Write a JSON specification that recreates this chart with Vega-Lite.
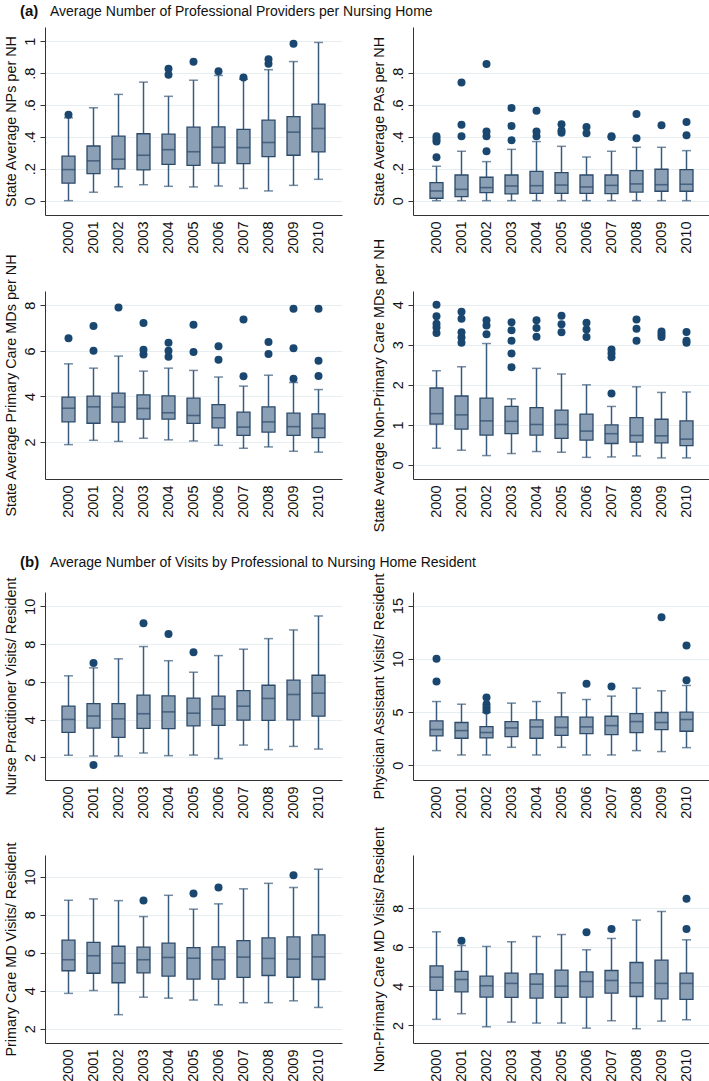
{
"$schema": "https://vega.github.io/schema/vega-lite/v6.json",
"background": "white",
"padding": {"left": 2, "top": 4, "right": 0, "bottom": 0},
"columns": 2,
"bounds": "flush",
"spacing": {"row": 37, "column": 71},
"config": {
  "font": "Liberation Sans",
  "view": {"stroke": null},
  "title": {"font": "Liberation Sans", "color": "#111", "fontSize": 14, "anchor": "start", "frame": "group"},
  "axis": {"domainColor": "#333", "tickColor": "#333", "labelColor": "#111", "titleColor": "#111", "labelFont": "Liberation Sans", "titleFont": "Liberation Sans", "labelFontSize": 14.5, "titleFontSize": 14.4, "titleFontWeight": "normal", "labelOverlap": false, "labelFlush": false},
  "axisX": {"ticks": false, "tickSize": 0, "labelAngle": -90, "labelAlign": "right", "labelBaseline": "middle", "labelPadding": 6, "grid": false, "labelFontSize": 14.5, "labelOverlap": false},
  "axisY": {"labelAngle": -90, "labelAlign": "center", "labelBaseline": "bottom", "tickSize": 5, "labelPadding": 3, "titlePadding": 4, "grid": true, "gridColor": "#e6eef2", "labelFontSize": 14.5, "labelOverlap": false}
},
"datasets": {
  "boxes": [
    {"p":1,"year":"2000","lo":0,"q1":0.11,"med":0.195,"q3":0.28,"hi":0.52},
    {"p":1,"year":"2001","lo":0.053,"q1":0.17,"med":0.25,"q3":0.343,"hi":0.583},
    {"p":1,"year":"2002","lo":0.087,"q1":0.2,"med":0.26,"q3":0.405,"hi":0.667},
    {"p":1,"year":"2003","lo":0.1,"q1":0.193,"med":0.285,"q3":0.42,"hi":0.744},
    {"p":1,"year":"2004","lo":0.09,"q1":0.228,"med":0.32,"q3":0.417,"hi":0.655},
    {"p":1,"year":"2005","lo":0.086,"q1":0.222,"med":0.307,"q3":0.461,"hi":0.756},
    {"p":1,"year":"2006","lo":0.092,"q1":0.235,"med":0.335,"q3":0.463,"hi":0.786},
    {"p":1,"year":"2007","lo":0.077,"q1":0.232,"med":0.333,"q3":0.448,"hi":0.762},
    {"p":1,"year":"2008","lo":0.061,"q1":0.277,"med":0.365,"q3":0.505,"hi":0.822},
    {"p":1,"year":"2009","lo":0.096,"q1":0.285,"med":0.43,"q3":0.528,"hi":0.873},
    {"p":1,"year":"2010","lo":0.134,"q1":0.306,"med":0.453,"q3":0.606,"hi":0.993},
    {"p":2,"year":"2000","lo":0,"q1":0.015,"med":0.061,"q3":0.113,"hi":0.216},
    {"p":2,"year":"2001","lo":0,"q1":0.025,"med":0.071,"q3":0.161,"hi":0.31},
    {"p":2,"year":"2002","lo":0,"q1":0.05,"med":0.082,"q3":0.147,"hi":0.245},
    {"p":2,"year":"2003","lo":0,"q1":0.042,"med":0.092,"q3":0.161,"hi":0.322},
    {"p":2,"year":"2004","lo":0,"q1":0.046,"med":0.094,"q3":0.184,"hi":0.371},
    {"p":2,"year":"2005","lo":0,"q1":0.046,"med":0.098,"q3":0.176,"hi":0.341},
    {"p":2,"year":"2006","lo":0,"q1":0.046,"med":0.086,"q3":0.161,"hi":0.274},
    {"p":2,"year":"2007","lo":0,"q1":0.044,"med":0.096,"q3":0.161,"hi":0.31},
    {"p":2,"year":"2008","lo":0,"q1":0.054,"med":0.105,"q3":0.188,"hi":0.335},
    {"p":2,"year":"2009","lo":0,"q1":0.059,"med":0.1,"q3":0.197,"hi":0.335},
    {"p":2,"year":"2010","lo":0,"q1":0.059,"med":0.103,"q3":0.195,"hi":0.314},
    {"p":3,"year":"2000","lo":1.88,"q1":2.88,"med":3.48,"q3":3.97,"hi":5.43},
    {"p":3,"year":"2001","lo":2.07,"q1":2.82,"med":3.54,"q3":4.01,"hi":5.24},
    {"p":3,"year":"2002","lo":2.02,"q1":2.87,"med":3.53,"q3":4.14,"hi":5.77},
    {"p":3,"year":"2003","lo":2.16,"q1":3.0,"med":3.47,"q3":4.07,"hi":5.11},
    {"p":3,"year":"2004","lo":2.09,"q1":3.0,"med":3.28,"q3":4.02,"hi":5.24},
    {"p":3,"year":"2005","lo":2.04,"q1":2.81,"med":3.16,"q3":3.92,"hi":5.14},
    {"p":3,"year":"2006","lo":1.85,"q1":2.62,"med":3.06,"q3":3.64,"hi":4.85},
    {"p":3,"year":"2007","lo":1.72,"q1":2.29,"med":2.65,"q3":3.31,"hi":4.45},
    {"p":3,"year":"2008","lo":1.78,"q1":2.43,"med":2.88,"q3":3.54,"hi":4.93},
    {"p":3,"year":"2009","lo":1.59,"q1":2.29,"med":2.67,"q3":3.26,"hi":4.61},
    {"p":3,"year":"2010","lo":1.55,"q1":2.19,"med":2.6,"q3":3.23,"hi":4.3},
    {"p":4,"year":"2000","lo":0.418,"q1":1.02,"med":1.28,"q3":1.92,"hi":2.35},
    {"p":4,"year":"2001","lo":0.368,"q1":0.895,"med":1.25,"q3":1.72,"hi":2.45},
    {"p":4,"year":"2002","lo":0.234,"q1":0.745,"med":1.1,"q3":1.67,"hi":3.03},
    {"p":4,"year":"2003","lo":0.285,"q1":0.78,"med":1.09,"q3":1.46,"hi":1.65},
    {"p":4,"year":"2004","lo":0.335,"q1":0.745,"med":1.01,"q3":1.43,"hi":2.41},
    {"p":4,"year":"2005","lo":0.318,"q1":0.661,"med":1.01,"q3":1.37,"hi":2.27},
    {"p":4,"year":"2006","lo":0.19,"q1":0.62,"med":0.845,"q3":1.27,"hi":2.0},
    {"p":4,"year":"2007","lo":0.2,"q1":0.535,"med":0.78,"q3":1.0,"hi":1.46},
    {"p":4,"year":"2008","lo":0.226,"q1":0.569,"med":0.736,"q3":1.18,"hi":1.95},
    {"p":4,"year":"2009","lo":0.176,"q1":0.552,"med":0.728,"q3":1.14,"hi":1.81},
    {"p":4,"year":"2010","lo":0.176,"q1":0.485,"med":0.644,"q3":1.1,"hi":1.82},
    {"p":5,"year":"2000","lo":2.11,"q1":3.32,"med":4.01,"q3":4.71,"hi":6.32},
    {"p":5,"year":"2001","lo":2.07,"q1":3.55,"med":4.19,"q3":4.85,"hi":6.74},
    {"p":5,"year":"2002","lo":2.07,"q1":3.06,"med":4.04,"q3":4.85,"hi":7.22},
    {"p":5,"year":"2003","lo":2.23,"q1":3.53,"med":4.31,"q3":5.3,"hi":7.87},
    {"p":5,"year":"2004","lo":2.09,"q1":3.52,"med":4.41,"q3":5.26,"hi":7.12},
    {"p":5,"year":"2005","lo":2.12,"q1":3.67,"med":4.34,"q3":5.14,"hi":6.51},
    {"p":5,"year":"2006","lo":1.93,"q1":3.69,"med":4.56,"q3":5.24,"hi":7.39},
    {"p":5,"year":"2007","lo":2.65,"q1":3.97,"med":4.71,"q3":5.54,"hi":7.73},
    {"p":5,"year":"2008","lo":2.41,"q1":3.96,"med":5.12,"q3":5.82,"hi":8.29},
    {"p":5,"year":"2009","lo":2.58,"q1":3.99,"med":5.33,"q3":6.09,"hi":8.75},
    {"p":5,"year":"2010","lo":2.44,"q1":4.18,"med":5.4,"q3":6.35,"hi":9.49},
    {"p":6,"year":"2000","lo":1.38,"q1":2.76,"med":3.36,"q3":4.17,"hi":5.99},
    {"p":6,"year":"2001","lo":0.97,"q1":2.54,"med":3.26,"q3":4.02,"hi":5.74},
    {"p":6,"year":"2002","lo":0.97,"q1":2.57,"med":3.08,"q3":3.64,"hi":4.96},
    {"p":6,"year":"2003","lo":1.69,"q1":2.7,"med":3.51,"q3":4.11,"hi":5.84},
    {"p":6,"year":"2004","lo":0.97,"q1":2.54,"med":3.61,"q3":4.27,"hi":5.99},
    {"p":6,"year":"2005","lo":1.69,"q1":2.82,"med":3.55,"q3":4.55,"hi":6.81},
    {"p":6,"year":"2006","lo":0.97,"q1":2.98,"med":3.61,"q3":4.52,"hi":6.18},
    {"p":6,"year":"2007","lo":0.97,"q1":2.89,"med":3.73,"q3":4.61,"hi":6.5},
    {"p":6,"year":"2008","lo":1.38,"q1":3.07,"med":4.11,"q3":4.86,"hi":7.25},
    {"p":6,"year":"2009","lo":1.29,"q1":3.36,"med":4.02,"q3":4.96,"hi":7.0},
    {"p":6,"year":"2010","lo":1.66,"q1":3.2,"med":4.3,"q3":4.99,"hi":7.5},
    {"p":7,"year":"2000","lo":3.86,"q1":5.05,"med":5.63,"q3":6.66,"hi":8.76},
    {"p":7,"year":"2001","lo":4.01,"q1":4.92,"med":5.84,"q3":6.54,"hi":8.83},
    {"p":7,"year":"2002","lo":2.74,"q1":4.42,"med":5.45,"q3":6.34,"hi":8.74},
    {"p":7,"year":"2003","lo":3.66,"q1":4.94,"med":5.63,"q3":6.29,"hi":7.9},
    {"p":7,"year":"2004","lo":3.61,"q1":4.77,"med":5.75,"q3":6.5,"hi":9.02},
    {"p":7,"year":"2005","lo":3.51,"q1":4.61,"med":5.71,"q3":6.27,"hi":8.29},
    {"p":7,"year":"2006","lo":3.26,"q1":4.61,"med":5.63,"q3":6.31,"hi":8.57},
    {"p":7,"year":"2007","lo":3.37,"q1":4.7,"med":5.77,"q3":6.64,"hi":9.36},
    {"p":7,"year":"2008","lo":3.37,"q1":4.8,"med":5.7,"q3":6.78,"hi":9.65},
    {"p":7,"year":"2009","lo":3.47,"q1":4.71,"med":5.66,"q3":6.83,"hi":9.43},
    {"p":7,"year":"2010","lo":3.12,"q1":4.59,"med":5.78,"q3":6.94,"hi":10.39},
    {"p":8,"year":"2000","lo":2.31,"q1":3.79,"med":4.47,"q3":5.05,"hi":6.79},
    {"p":8,"year":"2001","lo":2.6,"q1":3.72,"med":4.35,"q3":4.76,"hi":6.09},
    {"p":8,"year":"2002","lo":1.93,"q1":3.45,"med":4.03,"q3":4.52,"hi":6.04},
    {"p":8,"year":"2003","lo":2.17,"q1":3.43,"med":4.15,"q3":4.68,"hi":6.28},
    {"p":8,"year":"2004","lo":2.12,"q1":3.4,"med":4.11,"q3":4.64,"hi":6.55},
    {"p":8,"year":"2005","lo":2.12,"q1":3.43,"med":4.01,"q3":4.83,"hi":6.65},
    {"p":8,"year":"2006","lo":1.86,"q1":3.45,"med":4.25,"q3":4.74,"hi":5.87},
    {"p":8,"year":"2007","lo":2.24,"q1":3.65,"med":4.3,"q3":4.81,"hi":6.45},
    {"p":8,"year":"2008","lo":1.83,"q1":3.48,"med":4.18,"q3":5.22,"hi":7.39},
    {"p":8,"year":"2009","lo":2.22,"q1":3.36,"med":4.15,"q3":5.34,"hi":7.83},
    {"p":8,"year":"2010","lo":2.29,"q1":3.33,"med":4.15,"q3":4.68,"hi":6.38}
  ],
  "outl": [
    {"p":1,"year":"2000","v":0.539},
    {"p":1,"year":"2004","v":0.79},{"p":1,"year":"2004","v":0.828},
    {"p":1,"year":"2005","v":0.872},
    {"p":1,"year":"2006","v":0.813},
    {"p":1,"year":"2007","v":0.773},
    {"p":1,"year":"2008","v":0.86},{"p":1,"year":"2008","v":0.887},
    {"p":1,"year":"2009","v":0.985},
    {"p":2,"year":"2000","v":0.272},{"p":2,"year":"2000","v":0.371},{"p":2,"year":"2000","v":0.387},{"p":2,"year":"2000","v":0.404},
    {"p":2,"year":"2001","v":0.404},{"p":2,"year":"2001","v":0.477},{"p":2,"year":"2001","v":0.741},
    {"p":2,"year":"2002","v":0.31},{"p":2,"year":"2002","v":0.404},{"p":2,"year":"2002","v":0.434},{"p":2,"year":"2002","v":0.857},
    {"p":2,"year":"2003","v":0.379},{"p":2,"year":"2003","v":0.469},{"p":2,"year":"2003","v":0.582},
    {"p":2,"year":"2004","v":0.404},{"p":2,"year":"2004","v":0.434},{"p":2,"year":"2004","v":0.565},
    {"p":2,"year":"2005","v":0.427},{"p":2,"year":"2005","v":0.44},{"p":2,"year":"2005","v":0.48},
    {"p":2,"year":"2006","v":0.423},{"p":2,"year":"2006","v":0.463},
    {"p":2,"year":"2007","v":0.4},{"p":2,"year":"2007","v":0.405},
    {"p":2,"year":"2008","v":0.392},{"p":2,"year":"2008","v":0.544},
    {"p":2,"year":"2009","v":0.473},
    {"p":2,"year":"2010","v":0.41},{"p":2,"year":"2010","v":0.494},
    {"p":3,"year":"2000","v":6.55},
    {"p":3,"year":"2001","v":6.0},{"p":3,"year":"2001","v":7.09},
    {"p":3,"year":"2002","v":7.9},
    {"p":3,"year":"2003","v":5.84},{"p":3,"year":"2003","v":6.05},{"p":3,"year":"2003","v":7.22},
    {"p":3,"year":"2004","v":5.74},{"p":3,"year":"2004","v":6.0},{"p":3,"year":"2004","v":6.36},
    {"p":3,"year":"2005","v":5.95},{"p":3,"year":"2005","v":7.15},
    {"p":3,"year":"2006","v":5.61},{"p":3,"year":"2006","v":6.2},
    {"p":3,"year":"2007","v":4.88},{"p":3,"year":"2007","v":7.38},
    {"p":3,"year":"2008","v":5.86},{"p":3,"year":"2008","v":6.39},
    {"p":3,"year":"2009","v":4.77},{"p":3,"year":"2009","v":6.11},{"p":3,"year":"2009","v":7.85},
    {"p":3,"year":"2010","v":4.89},{"p":3,"year":"2010","v":5.56},{"p":3,"year":"2010","v":7.85},
    {"p":4,"year":"2000","v":3.29},{"p":4,"year":"2000","v":3.43},{"p":4,"year":"2000","v":3.52},{"p":4,"year":"2000","v":3.71},{"p":4,"year":"2000","v":4.0},
    {"p":4,"year":"2001","v":3.05},{"p":4,"year":"2001","v":3.18},{"p":4,"year":"2001","v":3.31},{"p":4,"year":"2001","v":3.65},{"p":4,"year":"2001","v":3.82},
    {"p":4,"year":"2002","v":3.26},{"p":4,"year":"2002","v":3.48},{"p":4,"year":"2002","v":3.61},
    {"p":4,"year":"2003","v":2.44},{"p":4,"year":"2003","v":2.78},{"p":4,"year":"2003","v":3.1},{"p":4,"year":"2003","v":3.36},{"p":4,"year":"2003","v":3.56},
    {"p":4,"year":"2004","v":3.2},{"p":4,"year":"2004","v":3.42},{"p":4,"year":"2004","v":3.61},
    {"p":4,"year":"2005","v":3.31},{"p":4,"year":"2005","v":3.51},{"p":4,"year":"2005","v":3.72},
    {"p":4,"year":"2006","v":3.19},{"p":4,"year":"2006","v":3.38},{"p":4,"year":"2006","v":3.55},
    {"p":4,"year":"2007","v":1.78},{"p":4,"year":"2007","v":2.69},{"p":4,"year":"2007","v":2.79},{"p":4,"year":"2007","v":2.88},
    {"p":4,"year":"2008","v":3.1},{"p":4,"year":"2008","v":3.4},{"p":4,"year":"2008","v":3.63},
    {"p":4,"year":"2009","v":3.19},{"p":4,"year":"2009","v":3.26},{"p":4,"year":"2009","v":3.33},
    {"p":4,"year":"2010","v":3.05},{"p":4,"year":"2010","v":3.1},{"p":4,"year":"2010","v":3.32},
    {"p":5,"year":"2001","v":1.59},{"p":5,"year":"2001","v":7.0},
    {"p":5,"year":"2003","v":9.1},
    {"p":5,"year":"2004","v":8.54},
    {"p":5,"year":"2005","v":7.57},
    {"p":6,"year":"2000","v":7.88},{"p":6,"year":"2000","v":10.0},
    {"p":6,"year":"2002","v":5.15},{"p":6,"year":"2002","v":5.43},{"p":6,"year":"2002","v":5.74},{"p":6,"year":"2002","v":6.37},
    {"p":6,"year":"2006","v":7.66},
    {"p":6,"year":"2007","v":7.41},
    {"p":6,"year":"2009","v":13.9},
    {"p":6,"year":"2010","v":8.0},{"p":6,"year":"2010","v":11.26},
    {"p":7,"year":"2003","v":8.74},
    {"p":7,"year":"2005","v":9.11},
    {"p":7,"year":"2006","v":9.43},
    {"p":7,"year":"2009","v":10.07},
    {"p":8,"year":"2001","v":6.33},
    {"p":8,"year":"2006","v":6.77},
    {"p":8,"year":"2007","v":6.93},
    {"p":8,"year":"2010","v":6.93},{"p":8,"year":"2010","v":8.48}
  ]
},
"concat": [
  {"width":297,"height":188,
   "title":{"text":"(a)","fontWeight":"bold","fontSize":15,"dx":-25,"offset":8},
   "encoding":{
     "x":{"field":"year","type":"ordinal","title":null,"scale":{"type":"band","paddingInner":0.5,"paddingOuter":0.69}},
     "y":{"field":"lo","type":"quantitative","title":"State Average NPs per NH","scale":{"domain":[-0.09,1.09],"nice":false,"zero":false},"axis":{"values":[0,0.2,0.4,0.6,0.8,1],"labelOverlap":false,"labelExpr":"datum.value < 0.05 ? '0' : (datum.value > 0.95 ? '1' : '.' + format(datum.value * 10, 'd'))"}}},
   "layer":[
    {"data":{"name":"boxes"},"transform":[{"filter":"datum.p==1"}],"mark":{"type":"rule","color":"#3b5b7c","strokeWidth":1.5},
     "encoding":{"y2":{"field":"q1"}}},
    {"data":{"name":"boxes"},"transform":[{"filter":"datum.p==1"}],"mark":{"type":"rule","color":"#3b5b7c","strokeWidth":1.5},
     "encoding":{"y":{"field":"q3","type":"quantitative"},"y2":{"field":"hi"}}},
    {"data":{"name":"boxes"},"transform":[{"filter":"datum.p==1"}],"mark":{"type":"tick","color":"#3b5b7c","size":9,"thickness":1.5}},
    {"data":{"name":"boxes"},"transform":[{"filter":"datum.p==1"}],"mark":{"type":"tick","color":"#3b5b7c","size":9,"thickness":1.5},
     "encoding":{"y":{"field":"hi","type":"quantitative"}}},
    {"data":{"name":"boxes"},"transform":[{"filter":"datum.p==1"}],"mark":{"type":"bar","width":13,"fill":"#8b9fb5","stroke":"#2c4a6a","strokeWidth":1.3},
     "encoding":{"y":{"field":"q1","type":"quantitative"},"y2":{"field":"q3"}}},
    {"data":{"name":"boxes"},"transform":[{"filter":"datum.p==1"}],"mark":{"type":"tick","color":"#2c4a6a","size":13,"thickness":1.6},
     "encoding":{"y":{"field":"med","type":"quantitative"}}},
    {"data":{"name":"outl"},"transform":[{"filter":"datum.p==1"}],"mark":{"type":"circle","size":64,"color":"#1a476f","opacity":1},
     "encoding":{"y":{"field":"v","type":"quantitative"}}}
   ]},
  {"width":297,"height":188,
   "title":{"text":"Average Number of Professional Providers per Nursing Home","fontWeight":"normal","fontSize":14,"dx":-363,"offset":8},
   "encoding":{
     "x":{"field":"year","type":"ordinal","title":null,"scale":{"type":"band","paddingInner":0.5,"paddingOuter":0.69}},
     "y":{"field":"lo","type":"quantitative","title":"State Average PAs per NH","scale":{"domain":[-0.09,1.09],"nice":false,"zero":false},"axis":{"values":[0,0.2,0.4,0.6,0.8],"labelOverlap":false,"labelExpr":"datum.value < 0.05 ? '0' : '.' + format(datum.value * 10, 'd')"}}},
   "layer":[
    {"data":{"name":"boxes"},"transform":[{"filter":"datum.p==2"}],"mark":{"type":"rule","color":"#3b5b7c","strokeWidth":1.5},
     "encoding":{"y2":{"field":"q1"}}},
    {"data":{"name":"boxes"},"transform":[{"filter":"datum.p==2"}],"mark":{"type":"rule","color":"#3b5b7c","strokeWidth":1.5},
     "encoding":{"y":{"field":"q3","type":"quantitative"},"y2":{"field":"hi"}}},
    {"data":{"name":"boxes"},"transform":[{"filter":"datum.p==2"}],"mark":{"type":"tick","color":"#3b5b7c","size":9,"thickness":1.5}},
    {"data":{"name":"boxes"},"transform":[{"filter":"datum.p==2"}],"mark":{"type":"tick","color":"#3b5b7c","size":9,"thickness":1.5},
     "encoding":{"y":{"field":"hi","type":"quantitative"}}},
    {"data":{"name":"boxes"},"transform":[{"filter":"datum.p==2"}],"mark":{"type":"bar","width":13,"fill":"#8b9fb5","stroke":"#2c4a6a","strokeWidth":1.3},
     "encoding":{"y":{"field":"q1","type":"quantitative"},"y2":{"field":"q3"}}},
    {"data":{"name":"boxes"},"transform":[{"filter":"datum.p==2"}],"mark":{"type":"tick","color":"#2c4a6a","size":13,"thickness":1.6},
     "encoding":{"y":{"field":"med","type":"quantitative"}}},
    {"data":{"name":"outl"},"transform":[{"filter":"datum.p==2"}],"mark":{"type":"circle","size":64,"color":"#1a476f","opacity":1},
     "encoding":{"y":{"field":"v","type":"quantitative"}}}
   ]},
  {"width":297,"height":1.7,"data":{"values":[{"a":1}]},"mark":{"type":"point","opacity":0}},
  {"width":297,"height":1.7,"data":{"values":[{"a":1}]},"mark":{"type":"point","opacity":0}},
  {"width":297,"height":188,
   "encoding":{
     "x":{"field":"year","type":"ordinal","title":null,"scale":{"type":"band","paddingInner":0.5,"paddingOuter":0.69}},
     "y":{"field":"lo","type":"quantitative","title":"State Average Primary Care MDs per NH","scale":{"domain":[0.37,8.63],"nice":false,"zero":false},"axis":{"values":[2,4,6,8],"labelOverlap":false}}},
   "layer":[
    {"data":{"name":"boxes"},"transform":[{"filter":"datum.p==3"}],"mark":{"type":"rule","color":"#3b5b7c","strokeWidth":1.5},
     "encoding":{"y2":{"field":"q1"}}},
    {"data":{"name":"boxes"},"transform":[{"filter":"datum.p==3"}],"mark":{"type":"rule","color":"#3b5b7c","strokeWidth":1.5},
     "encoding":{"y":{"field":"q3","type":"quantitative"},"y2":{"field":"hi"}}},
    {"data":{"name":"boxes"},"transform":[{"filter":"datum.p==3"}],"mark":{"type":"tick","color":"#3b5b7c","size":9,"thickness":1.5}},
    {"data":{"name":"boxes"},"transform":[{"filter":"datum.p==3"}],"mark":{"type":"tick","color":"#3b5b7c","size":9,"thickness":1.5},
     "encoding":{"y":{"field":"hi","type":"quantitative"}}},
    {"data":{"name":"boxes"},"transform":[{"filter":"datum.p==3"}],"mark":{"type":"bar","width":13,"fill":"#8b9fb5","stroke":"#2c4a6a","strokeWidth":1.3},
     "encoding":{"y":{"field":"q1","type":"quantitative"},"y2":{"field":"q3"}}},
    {"data":{"name":"boxes"},"transform":[{"filter":"datum.p==3"}],"mark":{"type":"tick","color":"#2c4a6a","size":13,"thickness":1.6},
     "encoding":{"y":{"field":"med","type":"quantitative"}}},
    {"data":{"name":"outl"},"transform":[{"filter":"datum.p==3"}],"mark":{"type":"circle","size":64,"color":"#1a476f","opacity":1},
     "encoding":{"y":{"field":"v","type":"quantitative"}}}
   ]},
  {"width":297,"height":188,
   "encoding":{
     "x":{"field":"year","type":"ordinal","title":null,"scale":{"type":"band","paddingInner":0.5,"paddingOuter":0.69}},
     "y":{"field":"lo","type":"quantitative","title":"State Average Non-Primary Care MDs per NH","scale":{"domain":[-0.35,4.34],"nice":false,"zero":false},"axis":{"values":[0,1,2,3,4],"labelOverlap":false}}},
   "layer":[
    {"data":{"name":"boxes"},"transform":[{"filter":"datum.p==4"}],"mark":{"type":"rule","color":"#3b5b7c","strokeWidth":1.5},
     "encoding":{"y2":{"field":"q1"}}},
    {"data":{"name":"boxes"},"transform":[{"filter":"datum.p==4"}],"mark":{"type":"rule","color":"#3b5b7c","strokeWidth":1.5},
     "encoding":{"y":{"field":"q3","type":"quantitative"},"y2":{"field":"hi"}}},
    {"data":{"name":"boxes"},"transform":[{"filter":"datum.p==4"}],"mark":{"type":"tick","color":"#3b5b7c","size":9,"thickness":1.5}},
    {"data":{"name":"boxes"},"transform":[{"filter":"datum.p==4"}],"mark":{"type":"tick","color":"#3b5b7c","size":9,"thickness":1.5},
     "encoding":{"y":{"field":"hi","type":"quantitative"}}},
    {"data":{"name":"boxes"},"transform":[{"filter":"datum.p==4"}],"mark":{"type":"bar","width":13,"fill":"#8b9fb5","stroke":"#2c4a6a","strokeWidth":1.3},
     "encoding":{"y":{"field":"q1","type":"quantitative"},"y2":{"field":"q3"}}},
    {"data":{"name":"boxes"},"transform":[{"filter":"datum.p==4"}],"mark":{"type":"tick","color":"#2c4a6a","size":13,"thickness":1.6},
     "encoding":{"y":{"field":"med","type":"quantitative"}}},
    {"data":{"name":"outl"},"transform":[{"filter":"datum.p==4"}],"mark":{"type":"circle","size":64,"color":"#1a476f","opacity":1},
     "encoding":{"y":{"field":"v","type":"quantitative"}}}
   ]},
  {"width":297,"height":38.4,"data":{"values":[{"a":1}]},"mark":{"type":"point","opacity":0}},
  {"width":297,"height":38.4,"data":{"values":[{"a":1}]},"mark":{"type":"point","opacity":0}},
  {"width":297,"height":188,
   "title":{"text":"(b)","fontWeight":"bold","fontSize":15,"dx":-25,"offset":7},
   "encoding":{
     "x":{"field":"year","type":"ordinal","title":null,"scale":{"type":"band","paddingInner":0.5,"paddingOuter":0.69}},
     "y":{"field":"lo","type":"quantitative","title":"Nurse Practitioner Visits/ Resident","scale":{"domain":[0.8,10.76],"nice":false,"zero":false},"axis":{"values":[2,4,6,8,10],"labelOverlap":false}}},
   "layer":[
    {"data":{"name":"boxes"},"transform":[{"filter":"datum.p==5"}],"mark":{"type":"rule","color":"#3b5b7c","strokeWidth":1.5},
     "encoding":{"y2":{"field":"q1"}}},
    {"data":{"name":"boxes"},"transform":[{"filter":"datum.p==5"}],"mark":{"type":"rule","color":"#3b5b7c","strokeWidth":1.5},
     "encoding":{"y":{"field":"q3","type":"quantitative"},"y2":{"field":"hi"}}},
    {"data":{"name":"boxes"},"transform":[{"filter":"datum.p==5"}],"mark":{"type":"tick","color":"#3b5b7c","size":9,"thickness":1.5}},
    {"data":{"name":"boxes"},"transform":[{"filter":"datum.p==5"}],"mark":{"type":"tick","color":"#3b5b7c","size":9,"thickness":1.5},
     "encoding":{"y":{"field":"hi","type":"quantitative"}}},
    {"data":{"name":"boxes"},"transform":[{"filter":"datum.p==5"}],"mark":{"type":"bar","width":13,"fill":"#8b9fb5","stroke":"#2c4a6a","strokeWidth":1.3},
     "encoding":{"y":{"field":"q1","type":"quantitative"},"y2":{"field":"q3"}}},
    {"data":{"name":"boxes"},"transform":[{"filter":"datum.p==5"}],"mark":{"type":"tick","color":"#2c4a6a","size":13,"thickness":1.6},
     "encoding":{"y":{"field":"med","type":"quantitative"}}},
    {"data":{"name":"outl"},"transform":[{"filter":"datum.p==5"}],"mark":{"type":"circle","size":64,"color":"#1a476f","opacity":1},
     "encoding":{"y":{"field":"v","type":"quantitative"}}}
   ]},
  {"width":297,"height":188,
   "title":{"text":"Average Number of Visits by Professional to Nursing Home Resident","fontWeight":"normal","fontSize":14,"dx":-363,"offset":3},
   "encoding":{
     "x":{"field":"year","type":"ordinal","title":null,"scale":{"type":"band","paddingInner":0.5,"paddingOuter":0.69}},
     "y":{"field":"lo","type":"quantitative","title":"Physician Assistant Visits/ Resident","scale":{"domain":[-1.38,16.28],"nice":false,"zero":false},"axis":{"values":[0,5,10,15],"labelOverlap":false}}},
   "layer":[
    {"data":{"name":"boxes"},"transform":[{"filter":"datum.p==6"}],"mark":{"type":"rule","color":"#3b5b7c","strokeWidth":1.5},
     "encoding":{"y2":{"field":"q1"}}},
    {"data":{"name":"boxes"},"transform":[{"filter":"datum.p==6"}],"mark":{"type":"rule","color":"#3b5b7c","strokeWidth":1.5},
     "encoding":{"y":{"field":"q3","type":"quantitative"},"y2":{"field":"hi"}}},
    {"data":{"name":"boxes"},"transform":[{"filter":"datum.p==6"}],"mark":{"type":"tick","color":"#3b5b7c","size":9,"thickness":1.5}},
    {"data":{"name":"boxes"},"transform":[{"filter":"datum.p==6"}],"mark":{"type":"tick","color":"#3b5b7c","size":9,"thickness":1.5},
     "encoding":{"y":{"field":"hi","type":"quantitative"}}},
    {"data":{"name":"boxes"},"transform":[{"filter":"datum.p==6"}],"mark":{"type":"bar","width":13,"fill":"#8b9fb5","stroke":"#2c4a6a","strokeWidth":1.3},
     "encoding":{"y":{"field":"q1","type":"quantitative"},"y2":{"field":"q3"}}},
    {"data":{"name":"boxes"},"transform":[{"filter":"datum.p==6"}],"mark":{"type":"tick","color":"#2c4a6a","size":13,"thickness":1.6},
     "encoding":{"y":{"field":"med","type":"quantitative"}}},
    {"data":{"name":"outl"},"transform":[{"filter":"datum.p==6"}],"mark":{"type":"circle","size":64,"color":"#1a476f","opacity":1},
     "encoding":{"y":{"field":"v","type":"quantitative"}}}
   ]},
  {"width":297,"height":1,"data":{"values":[{"a":1}]},"mark":{"type":"point","opacity":0}},
  {"width":297,"height":1,"data":{"values":[{"a":1}]},"mark":{"type":"point","opacity":0}},
  {"width":297,"height":188,
   "encoding":{
     "x":{"field":"year","type":"ordinal","title":null,"scale":{"type":"band","paddingInner":0.5,"paddingOuter":0.69}},
     "y":{"field":"lo","type":"quantitative","title":"Primary Care MD Visits/ Resident","scale":{"domain":[1.25,11.14],"nice":false,"zero":false},"axis":{"values":[2,4,6,8,10],"labelOverlap":false}}},
   "layer":[
    {"data":{"name":"boxes"},"transform":[{"filter":"datum.p==7"}],"mark":{"type":"rule","color":"#3b5b7c","strokeWidth":1.5},
     "encoding":{"y2":{"field":"q1"}}},
    {"data":{"name":"boxes"},"transform":[{"filter":"datum.p==7"}],"mark":{"type":"rule","color":"#3b5b7c","strokeWidth":1.5},
     "encoding":{"y":{"field":"q3","type":"quantitative"},"y2":{"field":"hi"}}},
    {"data":{"name":"boxes"},"transform":[{"filter":"datum.p==7"}],"mark":{"type":"tick","color":"#3b5b7c","size":9,"thickness":1.5}},
    {"data":{"name":"boxes"},"transform":[{"filter":"datum.p==7"}],"mark":{"type":"tick","color":"#3b5b7c","size":9,"thickness":1.5},
     "encoding":{"y":{"field":"hi","type":"quantitative"}}},
    {"data":{"name":"boxes"},"transform":[{"filter":"datum.p==7"}],"mark":{"type":"bar","width":13,"fill":"#8b9fb5","stroke":"#2c4a6a","strokeWidth":1.3},
     "encoding":{"y":{"field":"q1","type":"quantitative"},"y2":{"field":"q3"}}},
    {"data":{"name":"boxes"},"transform":[{"filter":"datum.p==7"}],"mark":{"type":"tick","color":"#2c4a6a","size":13,"thickness":1.6},
     "encoding":{"y":{"field":"med","type":"quantitative"}}},
    {"data":{"name":"outl"},"transform":[{"filter":"datum.p==7"}],"mark":{"type":"circle","size":64,"color":"#1a476f","opacity":1},
     "encoding":{"y":{"field":"v","type":"quantitative"}}}
   ]},
  {"width":297,"height":188,
   "encoding":{
     "x":{"field":"year","type":"ordinal","title":null,"scale":{"type":"band","paddingInner":0.5,"paddingOuter":0.69}},
     "y":{"field":"lo","type":"quantitative","title":"Non-Primary Care MD Visits/ Resident","scale":{"domain":[1.1,10.72],"nice":false,"zero":false},"axis":{"values":[2,4,6,8],"labelOverlap":false}}},
   "layer":[
    {"data":{"name":"boxes"},"transform":[{"filter":"datum.p==8"}],"mark":{"type":"rule","color":"#3b5b7c","strokeWidth":1.5},
     "encoding":{"y2":{"field":"q1"}}},
    {"data":{"name":"boxes"},"transform":[{"filter":"datum.p==8"}],"mark":{"type":"rule","color":"#3b5b7c","strokeWidth":1.5},
     "encoding":{"y":{"field":"q3","type":"quantitative"},"y2":{"field":"hi"}}},
    {"data":{"name":"boxes"},"transform":[{"filter":"datum.p==8"}],"mark":{"type":"tick","color":"#3b5b7c","size":9,"thickness":1.5}},
    {"data":{"name":"boxes"},"transform":[{"filter":"datum.p==8"}],"mark":{"type":"tick","color":"#3b5b7c","size":9,"thickness":1.5},
     "encoding":{"y":{"field":"hi","type":"quantitative"}}},
    {"data":{"name":"boxes"},"transform":[{"filter":"datum.p==8"}],"mark":{"type":"bar","width":13,"fill":"#8b9fb5","stroke":"#2c4a6a","strokeWidth":1.3},
     "encoding":{"y":{"field":"q1","type":"quantitative"},"y2":{"field":"q3"}}},
    {"data":{"name":"boxes"},"transform":[{"filter":"datum.p==8"}],"mark":{"type":"tick","color":"#2c4a6a","size":13,"thickness":1.6},
     "encoding":{"y":{"field":"med","type":"quantitative"}}},
    {"data":{"name":"outl"},"transform":[{"filter":"datum.p==8"}],"mark":{"type":"circle","size":64,"color":"#1a476f","opacity":1},
     "encoding":{"y":{"field":"v","type":"quantitative"}}}
   ]}
]
}
